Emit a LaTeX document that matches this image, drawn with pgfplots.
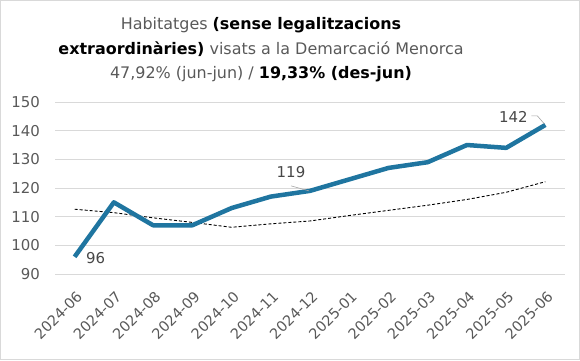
\documentclass[border=0pt]{standalone}
\usepackage{pgfplots}
\pgfplotsset{compat=1.18}
\usepackage{fontspec}
\setmainfont{DejaVu Sans}
\definecolor{mainblue}{RGB}{31,117,160}
\definecolor{gridgray}{RGB}{217,217,217}
\definecolor{txtgray}{RGB}{89,89,89}
\definecolor{leadgray}{RGB}{165,165,165}
\begin{document}
\begin{tikzpicture}[x=1bp,y=1bp]
\useasboundingbox (0,0) rectangle (580,360);
\draw[gridgray, line width=1.2bp] (0.6,0.6) rectangle (579.4,359.4);
\node[align=center, font=\fontsize{16}{24.5}\selectfont, anchor=center] at (261,310)
 {{\color{txtgray}Habitatges} \textbf{(sense legalitzacions}\\
  \textbf{extraordinàries)} {\color{txtgray}visats a la Demarcació Menorca}\\
  {\color{txtgray}47,92\% (jun-jun) /} \textbf{19,33\% (des-jun)}};
\begin{axis}[
 at={(55bp,86bp)}, anchor=south west, scale only axis,
 width=510bp, height=172bp,
 xmin=-0.5, xmax=12.5, ymin=90, ymax=150,
 ytick={90,100,...,150},
 xtick={0,...,12},
 xticklabels={2024-06,2024-07,2024-08,2024-09,2024-10,2024-11,2024-12,2025-01,2025-02,2025-03,2025-04,2025-05,2025-06},
 axis line style={draw=none}, tick style={draw=none},
 ymajorgrids, major grid style={gridgray, line width=1bp},
 /pgf/number format/assume math mode=true,
 x tick label style={xshift=1bp, yshift=-11bp, rotate=45, anchor=north east, font=\fontsize{14.5}{14.5}\selectfont, text=txtgray},
 y tick label style={font=\fontsize{15}{15}\selectfont, text=txtgray, xshift=-11.5bp},
 clip=false,
]
\addplot[black, line width=0.9bp, dash pattern=on 3bp off 2bp] coordinates {
 (0,112.6) (1,111.4) (2,109.6) (3,108.0) (4,106.3) (5,107.5) (6,108.5) (7,110.4) (8,112.2) (9,114.0) (10,116.0) (11,118.5) (12,122.2)};
\addplot[mainblue, line width=4.5bp, line join=round] coordinates {
 (0,96) (1,115) (2,107) (3,107) (4,113) (5,117) (6,119) (7,123) (8,127) (9,129) (10,135) (11,134) (12,142)};
\node[font=\fontsize{15}{15}\selectfont, text=txtgray!80!black] at ([xshift=21bp,yshift=-1bp]axis cs:0,96) {96};
\node[font=\fontsize{15}{15}\selectfont, text=txtgray!80!black] at ([xshift=-19bp,yshift=19bp]axis cs:6,119) {119};
\draw[leadgray, line width=0.6bp] ([xshift=-19bp,yshift=5bp]axis cs:6,119) -- ([xshift=-1bp]axis cs:6,119);
\node[font=\fontsize{15}{15}\selectfont, text=txtgray!80!black] at ([xshift=-32bp,yshift=8bp]axis cs:12,142) {142};
\draw[leadgray, line width=0.6bp] ([xshift=-14bp,yshift=9bp]axis cs:12,142) -- ([xshift=-8bp,yshift=9bp]axis cs:12,142) -- ([xshift=-1bp,yshift=1bp]axis cs:12,142);
\end{axis}
\end{tikzpicture}
\end{document}
